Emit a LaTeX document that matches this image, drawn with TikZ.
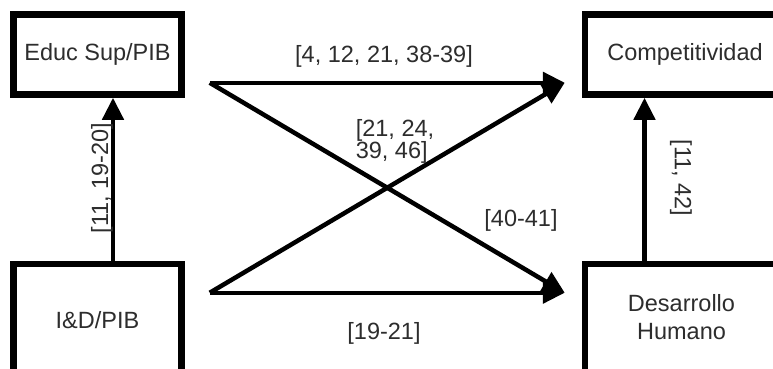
\documentclass[tikz,border=0pt]{standalone}
\usepackage{fontspec}
\setmainfont{Liberation Sans}
\usepackage{tikz}
\usetikzlibrary{
  arrows.meta,
  positioning
}
\definecolor{inkgray}{RGB}{45,45,45}
\tikzset{
  factor/.style={draw=black,line width=6.5pt,fill=white,align=center,
    minimum width=168pt,minimum height=80pt,inner sep=0pt,text=inkgray,
    font=\fontsize{23.5}{28}\selectfont},
  link/.style={-{Triangle[length=22pt,width=21pt]},line width=4.5pt,draw=black},
  lab/.style={font=\fontsize{23.5}{22}\selectfont,text=inkgray,inner sep=1pt}
}

\begin{document}
\begin{tikzpicture}[x=1pt,y=1pt]
  \useasboundingbox (0,0) rectangle (773,368);
  \clip (0,0) rectangle (773,368);
  \node[factor] (educ) at (97.5,313.5) {Educ Sup/PIB};
  \node[factor,minimum width=200pt,right=397pt of educ] (comp) {Competitividad};
  \node[factor,minimum height=120pt,below=163pt of educ.south,anchor=north] (idpib) {};
  \node[factor,minimum width=200pt,minimum height=120pt,right=397pt of idpib] (desa) {};
  % texts of the cut-off boxes
  \node[lab,font=\fontsize{23.5}{28}\selectfont] (idpibtxt) at ([yshift=4pt]idpib) {I\&D/PIB};
  \node[lab,font=\fontsize{23.5}{28}\selectfont,align=center] (desatxt) at ([xshift=-3.5pt,yshift=7pt]desa) {Desarrollo\\Humano};
  % arrow ends
  \coordinate (educ out) at ([shift={(25pt,15pt)}]educ.south east);
  \coordinate (comp in) at ([shift={(-17pt,15pt)}]comp.south west);
  \coordinate (idpib out) at ([shift={(25pt,-32pt)}]idpib.north east);
  \coordinate (desa in) at ([shift={(-17pt,-32pt)}]desa.north west);
  \draw[link] ([xshift=15.5pt]idpib.north) -- ([xshift=15.5pt]educ.south);
  \draw[link] ([xshift=-40.5pt]desa.north) -- ([xshift=-40.5pt]comp.south);
  \draw[link] (educ out) -- (comp in);
  \draw[link] (educ out) -- (desa in);
  \draw[link] (idpib out) -- (comp in);
  \draw[link] (idpib out) -- (desa in);
  \node[lab] (l1) at (384,312) {[4, 12, 21, 38-39]};
  \node[lab,align=left] (l2) at (395,227) {[21, 24,\\39, 46]};
  \node[lab] (l3) at (521,148) {[40-41]};
  \node[lab] (l4) at (384,35) {[19-21]};
  \node[lab,rotate=90] (l5) at (102,190) {[11, 19-20]};
  \node[lab,rotate=-90] (l6) at (681,190) {[11, 42]};
\end{tikzpicture}
\end{document}
